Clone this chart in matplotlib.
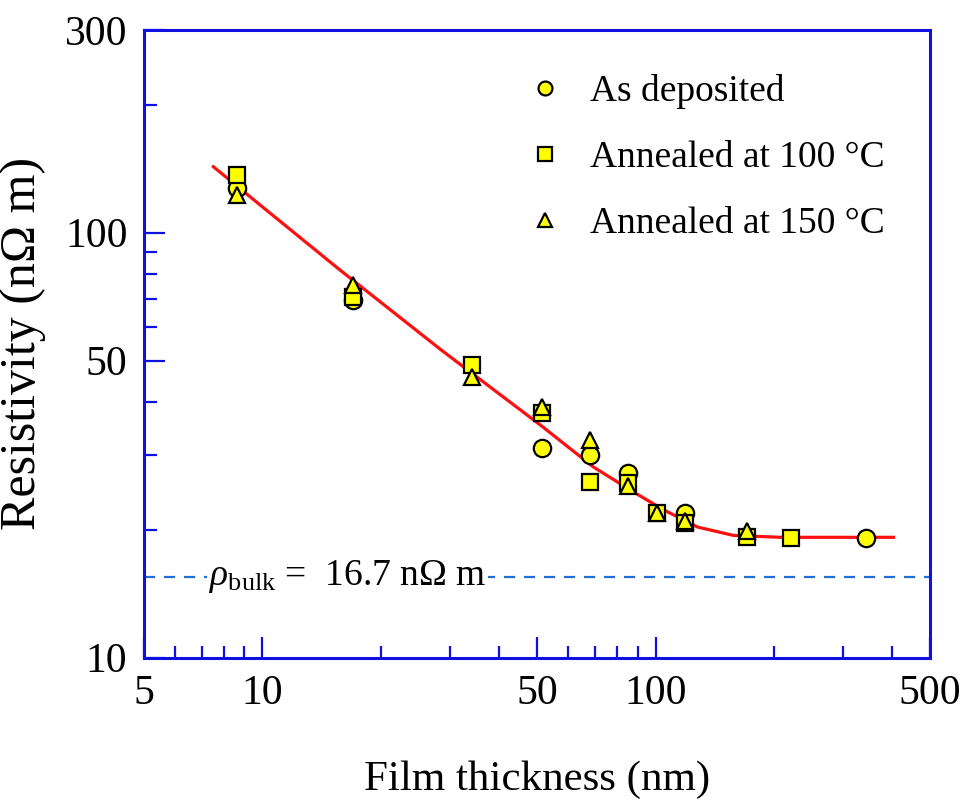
"""Resistivity versus film thickness (log-log) with size-effect fit."""

import matplotlib

matplotlib.use("Agg")

import matplotlib.pyplot as plt
from matplotlib.ticker import FixedLocator, FixedFormatter, NullFormatter

plt.rcParams["font.family"] = ["Liberation Serif", "DejaVu Serif"]
plt.rcParams["mathtext.fontset"] = "custom"
plt.rcParams["mathtext.rm"] = "Liberation Serif"
plt.rcParams["mathtext.it"] = "Liberation Serif:italic"

# As deposited
thick_dep = [8.6, 17.0, 51.3, 68.3, 84.9, 119, 344]
rho_dep = [127.6, 69.5, 31.2, 30.0, 27.2, 21.9, 19.1]

# Annealed at 100 C
thick_100 = [8.6, 17.0, 34.2, 51.3, 68.3, 84.9, 101, 119, 171, 221]
rho_100 = [137.0, 70.7, 48.9, 37.7, 25.9, 25.7, 21.9, 20.8, 19.2, 19.1]

# Annealed at 150 C
thick_150 = [8.6, 17.0, 34.2, 51.3, 68.3, 84.9, 101, 119, 171]
rho_150 = [122.8, 75.5, 45.8, 38.8, 32.6, 25.3, 21.9, 21.0, 19.9]

# fitted curve
fit_thick = [7.5, 10.0, 15.8, 28.4, 51.5, 69.5, 86.3, 104.7, 127.9, 157.8, 208, 403]
fit_rho = [143, 115, 81.5, 53.1, 35.0, 28.1, 24.8, 22.3, 20.3, 19.4, 19.2, 19.2]

rho_bulk_line = 15.5

x_major = [5, 10, 50, 100, 500]
x_minor = [6, 7, 8, 9, 20, 30, 40, 60, 70, 80, 90, 200, 300, 400]
y_major = [10, 50, 100, 300]
y_minor = [20, 30, 40, 60, 70, 80, 90, 200]

AXIS_BLUE = "#1010e0"
YELLOW = "#ffff00"


def main() -> None:
    fig = plt.figure(figsize=(9.61, 8.09), dpi=100)
    ax = fig.add_axes([0.150, 0.187, 0.818, 0.776])
    ax.set_xscale("log")
    ax.set_yscale("log")
    ax.set_xlim(5, 500)
    ax.set_ylim(10, 300)

    ax.plot(fit_thick, fit_rho, color="#ff1010", linewidth=2.3, zorder=2)
    ax.axhline(rho_bulk_line, color="#1f6fd6", linewidth=1.6,
               linestyle=(0, (5, 4)), zorder=1)

    marker_kw = dict(linestyle="none", markerfacecolor=YELLOW,
                     markeredgecolor="black", markeredgewidth=1.6, zorder=3)
    ax.plot(thick_dep, rho_dep, marker="o", markersize=12.5,
            label="As deposited", **marker_kw)
    ax.plot(thick_100, rho_100, marker="s", markersize=12,
            label="Annealed at 100 \u00b0C", **marker_kw)
    ax.plot(thick_150, rho_150, marker="^", markersize=12,
            label="Annealed at 150 \u00b0C", **marker_kw)

    ax.text(7.3, rho_bulk_line,
            r"$\mathit{\rho}_{\mathrm{bulk}}$" + " =  16.7 n\u03a9 m",
            fontsize=27, va="center", ha="left",
            bbox=dict(facecolor="white", edgecolor="none", pad=1), zorder=2)

    ax.legend(loc="upper left", bbox_to_anchor=(0.438, 0.99), frameon=False,
              fontsize=27, handlelength=1.0, handletextpad=0.7,
              labelspacing=0.85, markerscale=0.8, borderaxespad=0.6)

    for spine in ax.spines.values():
        spine.set_color(AXIS_BLUE)
        spine.set_linewidth(2.2)

    ax.xaxis.set_major_locator(FixedLocator(x_major))
    ax.xaxis.set_major_formatter(FixedFormatter([str(v) for v in x_major]))
    ax.xaxis.set_minor_locator(FixedLocator(x_minor))
    ax.xaxis.set_minor_formatter(NullFormatter())
    ax.yaxis.set_major_locator(FixedLocator(y_major))
    ax.yaxis.set_major_formatter(FixedFormatter([str(v) for v in y_major]))
    ax.yaxis.set_minor_locator(FixedLocator(y_minor))
    ax.yaxis.set_minor_formatter(NullFormatter())

    ax.tick_params(which="both", direction="in", color=AXIS_BLUE, width=1.6,
                   labelsize=30, top=False, right=False)
    ax.tick_params(which="major", length=15)
    ax.tick_params(which="minor", length=9)
    ax.tick_params(axis="x", which="major", pad=12)
    ax.tick_params(axis="y", which="major", pad=12)

    ax.set_xlabel("Film thickness (nm)", fontsize=31, labelpad=34)
    ax.set_ylabel("Resistivity (n\u03a9 m)", fontsize=36, labelpad=14)

    fig.savefig("out.png", dpi=100)
    plt.close(fig)


if __name__ == "__main__":
    main()
